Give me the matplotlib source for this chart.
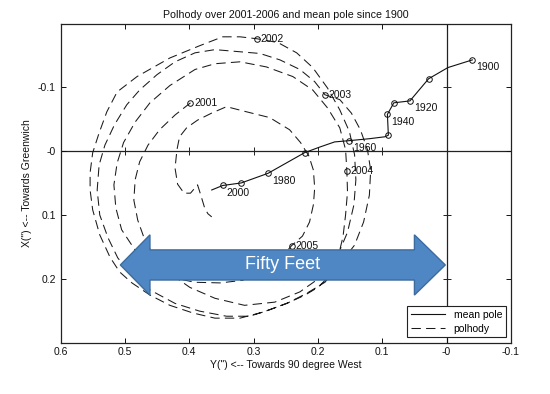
import matplotlib
matplotlib.use('Agg')
import matplotlib.pyplot as plt
from matplotlib.patches import Polygon
from matplotlib.lines import Line2D

plt.rcParams['font.family'] = ['Liberation Sans', 'DejaVu Sans']

title = 'Polhody over 2001-2006 and mean pole since 1900'
xlabel = 'Y(") <-- Towards 90 degree West'
ylabel = 'X(") <-- Towards Greenwich'

x_ticks = [0.6, 0.5, 0.4, 0.3, 0.2, 0.1, 0.0, -0.1]
x_tick_labels = ['0.6', '0.5', '0.4', '0.3', '0.2', '0.1', '-0', '-0.1']
y_ticks = [-0.1, 0.0, 0.1, 0.2]
y_tick_labels = ['-0.1', '-0', '0.1', '0.2']

# mean pole path (arcsec)
mean_x = [-0.040, -0.002, 0.028, 0.057, 0.082, 0.092, 0.0905, 0.096, 0.120, 0.151,
          0.174, 0.197, 0.2205, 0.2775, 0.319, 0.348, 0.365]
mean_y = [-0.142, -0.130, -0.1125, -0.078, -0.075, -0.057, -0.0245, -0.022, -0.019, -0.016,
          -0.014, -0.006, 0.0027, 0.035, 0.050, 0.054, 0.061]
# decade markers 1900..2000
decade_x = [-0.040, 0.028, 0.057, 0.082, 0.092, 0.0905, 0.151, 0.2205, 0.2775, 0.319, 0.348]
decade_y = [-0.142, -0.1125, -0.078, -0.075, -0.057, -0.0245, -0.016, 0.0027, 0.035, 0.050, 0.054]
decade_labels = ['1900', '', '1920', '', '1940', '', '1960', '', '1980', '', '2000']

# polhody 2001-2006 (arcsec), one segment per year
polhody_2001_x = [0.398, 0.422, 0.446, 0.464, 0.477, 0.484, 0.486, 0.480, 0.469, 0.453,
                  0.430, 0.399, 0.360, 0.314, 0.267, 0.228, 0.197, 0.171, 0.154, 0.144,
                  0.141, 0.143, 0.151, 0.166, 0.185, 0.208, 0.233, 0.262]
polhody_2001_y = [-0.075, -0.056, -0.033, -0.009, 0.017, 0.045, 0.077, 0.108, 0.139, 0.167,
                  0.191, 0.213, 0.230, 0.241, 0.236, 0.220, 0.198, 0.167, 0.127, 0.084,
                  0.045, 0.006, -0.030, -0.064, -0.098, -0.130, -0.153, -0.169]
polhody_2002_x = [0.295, 0.321, 0.348, 0.384, 0.430, 0.481, 0.512, 0.528, 0.540, 0.550, 0.554,
                  0.554, 0.550, 0.539, 0.523, 0.508, 0.489, 0.461, 0.430, 0.394, 0.360,
                  0.321, 0.287, 0.248, 0.217, 0.189, 0.163, 0.143, 0.129, 0.120, 0.118,
                  0.123, 0.134, 0.148, 0.166]
polhody_2002_y = [-0.175, -0.178, -0.178, -0.164, -0.145, -0.116, -0.092, -0.061, -0.028, 0.003, 0.034,
                  0.061, 0.092, 0.131, 0.166, 0.189, 0.206, 0.225, 0.241, 0.253, 0.261,
                  0.261, 0.252, 0.238, 0.222, 0.205, 0.173, 0.147, 0.111, 0.069, 0.030,
                  -0.002, -0.033, -0.059, -0.080]
polhody_2003_x = [0.189, 0.205, 0.228, 0.259, 0.290, 0.326, 0.360, 0.391, 0.422, 0.450, 0.477,
                  0.497, 0.516, 0.531, 0.540, 0.543, 0.539, 0.526, 0.511, 0.489, 0.461,
                  0.422, 0.384, 0.342, 0.306, 0.275, 0.244, 0.220, 0.200, 0.182, 0.169,
                  0.161, 0.157, 0.154]
polhody_2003_y = [-0.0875, -0.108, -0.127, -0.142, -0.152, -0.155, -0.158, -0.153, -0.139, -0.119, -0.095,
                  -0.072, -0.041, -0.009, 0.022, 0.061, 0.100, 0.136, 0.167, 0.194, 0.217,
                  0.238, 0.250, 0.258, 0.258, 0.248, 0.236, 0.225, 0.213, 0.195, 0.167,
                  0.134, 0.100, 0.064]
polhody_2004_x = [0.155, 0.157, 0.166, 0.185, 0.208, 0.239, 0.280, 0.321, 0.360, 0.391, 0.430,
                  0.461, 0.484, 0.502, 0.512, 0.517, 0.514, 0.505, 0.484, 0.461, 0.430,
                  0.391, 0.352, 0.317, 0.287, 0.259]
polhody_2004_y = [0.031, -0.002, -0.036, -0.067, -0.095, -0.116, -0.131, -0.139, -0.136, -0.127, -0.102,
                  -0.075, -0.045, -0.013, 0.019, 0.053, 0.089, 0.123, 0.155, 0.177, 0.197,
                  0.205, 0.206, 0.202, 0.188, 0.169]
polhody_2005_x = [0.241, 0.224, 0.213, 0.207, 0.205, 0.207, 0.214, 0.227, 0.244, 0.275, 0.311,
                  0.342, 0.365, 0.387, 0.404, 0.415, 0.419, 0.422, 0.418, 0.408, 0.398,
                  0.387, 0.382, 0.376, 0.371, 0.365]
polhody_2005_y = [0.148, 0.133, 0.111, 0.084, 0.058, 0.030, 0.008, -0.013, -0.033, -0.052, -0.061,
                  -0.069, -0.059, -0.048, -0.036, -0.022, -0.002, 0.027, 0.052, 0.066, 0.066,
                  0.053, 0.069, 0.089, 0.098, 0.103]
polhody_years = ['2001', '2002', '2003', '2004', '2005']

# "Fifty Feet" arrow annotation (arcsec)
arrow_left_tip = 0.507
arrow_right_tip = 0.002
arrow_head_left = 0.461
arrow_head_right = 0.050
arrow_y = 0.178
arrow_head_half = 0.047
arrow_shaft_half = 0.0235
arrow_text = 'Fifty Feet'
arrow_text_x = 0.255

fig = plt.figure(figsize=(5.5, 3.94), dpi=100)
ax = fig.add_axes([0.110, 0.1307, 0.819, 0.8084])

ax.set_xlim(0.6, -0.1)
ax.set_ylim(0.299, -0.198)

# crosshair lines through origin
ax.axhline(0, color='#222222', lw=0.9, zorder=1)
ax.axvline(0, color='#222222', lw=0.9, zorder=1)
ax.plot(x_ticks[1:-1], [0] * (len(x_ticks) - 2), ls='none', marker='|', ms=6,
        mew=0.7, color='#222222', zorder=1)
ax.plot([0] * len(y_ticks), y_ticks, ls='none', marker='_', ms=6,
        mew=0.7, color='#222222', zorder=1)

# polhody
segs_x = [polhody_2001_x, polhody_2002_x, polhody_2003_x, polhody_2004_x, polhody_2005_x]
segs_y = [polhody_2001_y, polhody_2002_y, polhody_2003_y, polhody_2004_y, polhody_2005_y]
px, py = [], []
for sx, sy in zip(segs_x, segs_y):
    px += sx
    py += sy
ax.plot(px, py, color='#1a1a1a', lw=0.75, dashes=(9, 5), zorder=2)
for sx, sy, lab in zip(segs_x, segs_y, polhody_years):
    ax.plot(sx[0], sy[0], marker='o', ms=4, mfc='none', mec='#111111', mew=0.7, zorder=3)
    ax.annotate(lab, (sx[0], sy[0]), xytext=(2.5, 0), textcoords='offset points',
                ha='left', va='center', fontsize=7.5, color='#111111', zorder=3)

# mean pole
ax.plot(mean_x, mean_y, color='#111111', lw=0.8, zorder=2)
ax.plot(decade_x, decade_y, ls='none', marker='o', ms=4, mfc='none', mec='#111111',
        mew=0.7, zorder=3)
for x, y, lab in zip(decade_x, decade_y, decade_labels):
    if lab:
        ax.annotate(lab, (x, y), xytext=(2.8, -5.4), textcoords='offset points',
                    ha='left', va='center', fontsize=7.5, color='#111111', zorder=3)

# arrow
verts = [
    (arrow_left_tip, arrow_y),
    (arrow_head_left, arrow_y - arrow_head_half),
    (arrow_head_left, arrow_y - arrow_shaft_half),
    (arrow_head_right, arrow_y - arrow_shaft_half),
    (arrow_head_right, arrow_y - arrow_head_half),
    (arrow_right_tip, arrow_y),
    (arrow_head_right, arrow_y + arrow_head_half),
    (arrow_head_right, arrow_y + arrow_shaft_half),
    (arrow_head_left, arrow_y + arrow_shaft_half),
    (arrow_head_left, arrow_y + arrow_head_half),
]
ax.add_patch(Polygon(verts, closed=True, facecolor='#4f87c4', edgecolor='#3c6c9f',
                     lw=1.0, zorder=5))
ax.text(arrow_text_x, arrow_y, arrow_text, color='white', fontsize=13,
        ha='center', va='center', zorder=6)

# axes styling
ax.set_xticks(x_ticks)
ax.set_xticklabels(x_tick_labels)
ax.set_yticks(y_ticks)
ax.set_yticklabels(y_tick_labels)
ax.tick_params(direction='in', length=3.5, width=0.7, top=True, right=True,
               labelsize=7.5, colors='#111111')
for s in ax.spines.values():
    s.set_linewidth(0.9)
    s.set_color('#222222')
ax.set_title(title, fontsize=7.7, pad=4, color='#111111')
ax.set_xlabel(xlabel, fontsize=7.5, labelpad=2, color='#111111')
ax.set_ylabel(ylabel, fontsize=7.5, labelpad=4, color='#111111')

handles = [Line2D([], [], color='#111111', lw=0.8),
           Line2D([], [], color='#1a1a1a', lw=0.75, dashes=(9, 5))]
leg = ax.legend(handles, ['mean pole', 'polhody'], loc='lower right', fontsize=7.5,
                frameon=True, fancybox=False, edgecolor='#222222', framealpha=1,
                handlelength=3.3, borderaxespad=0.5, borderpad=0.35, labelspacing=0.35)
leg.get_frame().set_linewidth(0.8)

fig.savefig('out.png', dpi=100, facecolor='white')
